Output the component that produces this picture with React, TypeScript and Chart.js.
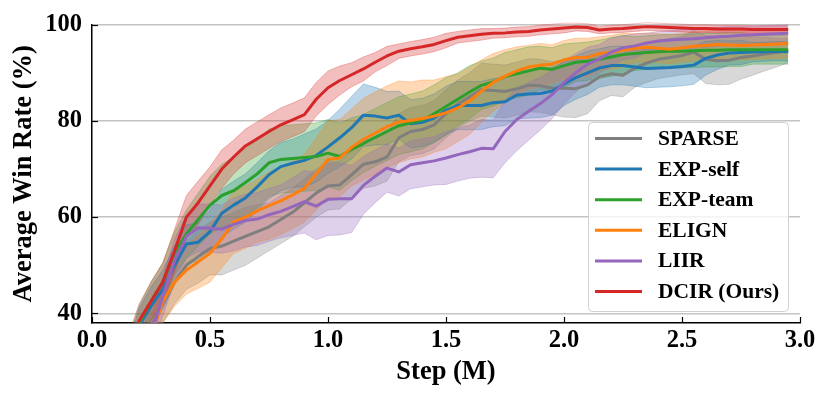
import React, { useEffect, useRef } from "react";
import { Chart, registerables } from "chart.js";

Chart.register(...registerables);

const steps = [
  0, 0.05, 0.1, 0.15, 0.2, 0.25, 0.3, 0.35, 0.4, 0.45, 0.5, 0.55, 0.6, 0.65, 0.7,
  0.75, 0.8, 0.85, 0.9, 0.95, 1.0, 1.05, 1.1, 1.15, 1.2, 1.25, 1.3, 1.35, 1.4, 1.45,
  1.5, 1.55, 1.6, 1.65, 1.7, 1.75, 1.8, 1.85, 1.9, 1.95, 2.0, 2.05, 2.1, 2.15, 2.2,
  2.25, 2.3, 2.35, 2.4, 2.45, 2.5, 2.55, 2.6, 2.65, 2.7, 2.75, 2.8, 2.85, 2.9, 2.95,
];

const seriesNames = ["SPARSE", "EXP-self", "EXP-team", "ELIGN", "LIIR", "DCIR (Ours)"];
const seriesColors = ["#7f7f7f", "#1f77b4", "#2ca02c", "#ff7f0e", "#9467bd", "#d62728"];

const sparseMean = [
  10, 16, 22, 27, 32, 37.5, 42, 46.5, 50, 51.8, 53.5, 54, 55, 56, 57,
  58, 59.5, 61, 63, 65, 66.5, 66.7, 68.8, 71, 71.5, 72.5, 76.5, 77.8, 78.2, 79.2,
  81.5, 83.5, 85, 86.5, 86.3, 86.1, 86.7, 87.4, 87.3, 86.8, 86.8, 86.7, 87.5, 89.2, 89.8,
  89.5, 91, 92, 92.8, 93.2, 93.6, 94.3, 92.8, 92.5, 92.6, 93.2, 93.5, 93.9, 94.2, 94.6,
];
const sparseStd = [
  3, 3, 3, 3, 3.5, 4, 4, 4.5, 5, 5.5, 5.5, 6, 6, 6, 5.5,
  5, 5, 5, 5, 5, 5, 5, 5, 5, 5, 5, 5, 5, 5, 5,
  5, 5, 5, 5.5, 5.5, 5.5, 5.5, 5.5, 5.5, 5.5, 6, 6, 6, 5, 4.5,
  4.5, 4, 4, 4, 4, 4, 4.5, 5, 5, 5, 4.5, 4, 3.5, 3, 2.5,
];

const expSelfMean = [
  12, 18, 24, 30, 37.5, 41.5, 45, 50, 54.4, 54.8, 57, 60.8, 62.5, 64, 66.3,
  68.8, 70.5, 71.2, 71.8, 72.8, 74.6, 76.5, 78.6, 81.2, 81.0, 80.6, 81.2, 79.4, 79.7, 80.6,
  82.2, 83.2, 83.2, 83.2, 83.8, 84.0, 85.4, 85.6, 85.7, 86.2, 87.7, 89.0, 90.0, 91.0, 91.5,
  91.5, 91.2, 90.9, 91.0, 91.1, 91.3, 91.6, 93.0, 93.7, 94.1, 94.2, 94.3, 94.4, 94.5, 94.4,
];
const expSelfStd = [
  3, 3, 3, 3, 3.5, 4, 4, 4, 4, 4, 4.5, 5, 5, 5, 5,
  5, 5, 5, 5.5, 5.5, 5.5, 6, 6.5, 6.5, 6, 5.5, 5, 5, 5, 5,
  5, 5, 5, 5, 5, 5, 5, 5, 5, 5, 4.5, 4.5, 4.5, 4, 4,
  4, 4, 4, 4, 4, 4, 4, 3.5, 3, 2.5, 2.5, 2, 2, 2, 2,
];

const expTeamMean = [
  14, 19, 25, 31, 38, 42.5, 46.5, 52.5, 56.5, 59.5, 62.5, 64.5, 65.5, 67.2, 69,
  71.3, 72, 72.2, 72.4, 72.6, 73.3, 72.6, 74.1, 75.3, 76.6, 77.8, 79.0, 79.6, 80.2, 81.5,
  83, 84.5, 86, 87.4, 88.1, 89.2, 89.8, 90.4, 91.0, 90.7, 91.5, 92.2, 92.4, 92.8, 93.3,
  93.8, 94.0, 94.2, 94.4, 94.5, 94.5, 94.6, 94.7, 94.7, 94.8, 94.8, 94.8, 94.8, 94.8, 94.8,
];
const expTeamStd = [
  3, 3, 3, 3, 3.5, 4, 4, 4.5, 5, 5.5, 6, 6.5, 7, 7, 7,
  7, 7, 7, 7, 7, 7, 7, 6.5, 6, 6, 6, 6, 6, 6, 6,
  6, 5.5, 5.5, 5, 5, 5, 5, 5, 4.5, 4.5, 4.5, 4, 4, 4, 4,
  4, 3.5, 3.5, 3.5, 3.5, 3.5, 3.5, 3.5, 3.5, 3.5, 3.5, 3, 3, 3, 3,
];

const elignMean = [
  5, 11, 17, 23, 29, 35, 42.5, 46.5, 49, 50.7, 52.5, 55.5, 59, 60, 61.3,
  62.4, 63.4, 64.6, 66, 69, 72, 72.3, 74.5, 76.2, 77.5, 78.8, 79.8, 80.1, 80.5, 81,
  81.7, 82.7, 84.2, 86.2, 88, 89.3, 90.4, 91.2, 91.6, 91.8, 92.7, 93.2, 93.2, 94, 94.3,
  94.7, 95.1, 95.3, 95.1, 94.9, 95.2, 95.5, 95.7, 95.9, 95.8, 95.7, 95.8, 95.9, 96, 96.1,
];
const elignStd = [
  3, 3, 3, 3, 3.5, 4, 4.5, 5, 5, 5.5, 6, 6, 6.5, 6.5, 6.5,
  7, 7, 7, 7, 7.5, 8, 8, 8, 8.5, 8.5, 8.5, 8.5, 8, 8, 7.5,
  7.5, 7, 7, 6.5, 6, 5.5, 5, 4.5, 4.5, 4, 4, 4, 4, 3.5, 3.5,
  3.5, 3, 3, 3, 3, 3, 3, 3, 3, 3, 3, 3, 3, 3, 3,
];

const liirMean = [
  8, 13, 19, 25, 30, 35.5, 43.5, 51, 56, 57.8, 57.7, 57.5, 58.5, 59.3, 59.6,
  60.5, 61.2, 62.2, 63.2, 62.3, 63.7, 63.8, 63.8, 66.6, 68.5, 70.2, 69.4, 70.9, 71.3, 71.7,
  72.3, 73, 73.6, 74.3, 74.2, 77.8, 80.3, 82, 83.6, 85.5, 88, 90, 91.8, 92.9, 94.3,
  95.2, 95.6, 96.2, 96.6, 96.8, 97, 97.1, 97.3, 97.5, 97.6, 97.8, 97.9, 98, 98.1, 98.2,
];
const liirStd = [
  3, 3, 3, 3, 3.5, 4, 4, 4.5, 4.5, 5, 5, 5, 5.5, 5.5, 5.5,
  5.5, 5.5, 6, 6.5, 7, 7.5, 7.5, 7, 6, 5.5, 5, 5, 5, 5, 5,
  5.5, 5.5, 5.5, 6, 6, 6.5, 6.5, 6, 5.5, 5, 4.5, 4, 3.5, 3, 3,
  2.5, 2.5, 2, 2, 2, 2, 2, 2, 2, 2, 1.8, 1.8, 1.8, 1.8, 1.8,
];

const dcirMean = [
  15, 20, 25, 32, 38.5, 42.5, 46.5, 53, 60, 63, 66.5, 70, 72.5, 74.8, 76.3,
  77.8, 79.2, 80.2, 81.3, 84.5, 86.9, 88.4, 89.6, 90.8, 92.2, 93.5, 94.5, 95.0, 95.4, 95.9,
  96.7, 97.4, 97.7, 98.0, 98.2, 98.3, 98.5, 98.6, 98.9, 99.1, 99.3, 99.5, 99.4, 98.9, 99.1,
  99.2, 99.4, 99.6, 99.5, 99.4, 99.3, 99.2, 99.2, 99.1, 99.1, 99.1, 99.0, 99.0, 99.0, 99.0,
];
const dcirStd = [
  3, 3, 3, 3, 3.5, 4, 4, 4.5, 4.5, 4.5, 4, 4, 3.5, 3.5, 3.5,
  3.5, 3.5, 3.5, 3.5, 3.5, 3.5, 3, 2.5, 2.5, 2, 2, 1.5, 1.5, 1.5, 1.5,
  1.5, 1.2, 1.2, 1.2, 1, 1, 1, 1, 1, 1, 1, 0.8, 0.8, 0.8, 0.8,
  0.8, 0.8, 0.8, 0.8, 0.8, 0.8, 0.8, 0.8, 0.8, 0.8, 0.8, 0.8, 0.8, 0.8, 0.8,
];

const xTicks = [0, 0.5, 1.0, 1.5, 2.0, 2.5, 3.0];
const yTicks = [40, 60, 80, 100];

const allMeans = [sparseMean, expSelfMean, expTeamMean, elignMean, liirMean, dcirMean];
const allStds = [sparseStd, expSelfStd, expTeamStd, elignStd, liirStd, dcirStd];

const FONT_FAMILY = '"Liberation Serif", "Times New Roman", Times, serif';

function rgba(hex: string, a: number) {
  const n = parseInt(hex.slice(1), 16);
  return `rgba(${(n >> 16) & 255}, ${(n >> 8) & 255}, ${n & 255}, ${a})`;
}

const inwardTicks = {
  id: "inwardTicks",
  afterDraw(chart: any) {
    const { ctx, chartArea, scales } = chart;
    ctx.save();
    ctx.strokeStyle = "#000";
    ctx.lineWidth = 1.2;
    xTicks.forEach((v) => {
      const px = Math.round(scales.x.getPixelForValue(v)) + 0.5;
      ctx.beginPath();
      ctx.moveTo(px, chartArea.bottom);
      ctx.lineTo(px, chartArea.bottom - 6);
      ctx.stroke();
    });
    yTicks.forEach((v) => {
      const py = Math.round(scales.y.getPixelForValue(v)) + 0.5;
      ctx.beginPath();
      ctx.moveTo(chartArea.left, py);
      ctx.lineTo(chartArea.left + 6, py);
      ctx.stroke();
    });
    ctx.restore();
  },
};

const boxLegend = {
  id: "boxLegend",
  afterDraw(chart: any) {
    const { ctx } = chart;
    ctx.save();
    const bx = 588.5, by = 122.5, bw = 200, bh = 189;
    ctx.beginPath();
    ctx.roundRect(bx, by, bw, bh, 4);
    ctx.fillStyle = "rgba(255,255,255,0.8)";
    ctx.fill();
    ctx.strokeStyle = "#d0d0d0";
    ctx.lineWidth = 1;
    ctx.stroke();
    ctx.font = `bold 21.5px ${FONT_FAMILY}`;
    ctx.textBaseline = "middle";
    ctx.textAlign = "left";
    seriesNames.forEach((name, i) => {
      const y = 138.5 + i * 30.6;
      ctx.strokeStyle = seriesColors[i];
      ctx.lineWidth = 3;
      ctx.beginPath();
      ctx.moveTo(595, y);
      ctx.lineTo(642, y);
      ctx.stroke();
      ctx.fillStyle = "#000";
      ctx.fillText(name, 658, y + 1);
    });
    ctx.restore();
  },
};

export default function App() {
  const canvasRef = useRef<HTMLCanvasElement | null>(null);

  useEffect(() => {
    const canvas = canvasRef.current;
    if (!canvas) return;
    const datasets: any[] = [];
    allMeans.forEach((mean, s) => {
      const std = allStds[s];
      const color = seriesColors[s];
      const lowerIndex = datasets.length;
      datasets.push({
        label: seriesNames[s] + " lower",
        data: steps.map((x, i) => ({ x, y: mean[i] - std[i] })),
        borderColor: rgba(color, 0.3),
        borderWidth: 1,
        pointRadius: 0,
        fill: false,
        order: 30 - s,
        clip: { left: 0, top: 5, right: 5, bottom: 0 },
      });
      datasets.push({
        label: seriesNames[s] + " upper",
        data: steps.map((x, i) => ({ x, y: mean[i] + std[i] })),
        borderColor: rgba(color, 0.3),
        backgroundColor: rgba(color, 0.3),
        borderWidth: 1,
        pointRadius: 0,
        fill: { target: lowerIndex },
        order: 30 - s,
        clip: { left: 0, top: 5, right: 5, bottom: 0 },
      });
      datasets.push({
        label: seriesNames[s],
        data: steps.map((x, i) => ({ x, y: mean[i] })),
        borderColor: color,
        borderWidth: 3,
        borderJoinStyle: "round",
        pointRadius: 0,
        fill: false,
        order: 5 - s,
        clip: { left: 0, top: 5, right: 5, bottom: 0 },
      });
    });

    const tickFont = { family: FONT_FAMILY, size: 24.5, weight: "bold" as const };
    const titleFont = { family: FONT_FAMILY, size: 26.5, weight: "bold" as const };

    const chart = new Chart(canvas, {
      type: "line",
      data: { datasets },
      options: {
        animation: false,
        responsive: false,
        maintainAspectRatio: false,
        layout: { padding: { top: 22, right: 30, left: 0, bottom: 0 } },
        elements: { point: { radius: 0 }, line: { tension: 0 } },
        plugins: {
          legend: { display: false },
          tooltip: { enabled: false },
          filler: { drawTime: "beforeDatasetsDraw", propagate: false },
        } as any,
        scales: {
          x: {
            type: "linear",
            min: 0,
            max: 3,
            afterBuildTicks: (scale: any) => {
              scale.ticks = xTicks.map((v) => ({ value: v }));
            },
            afterFit: (scale: any) => {
              scale.height = 75;
            },
            grid: { display: false, drawTicks: false },
            border: { display: true, color: "#000", width: 1.5 },
            ticks: {
              font: tickFont,
              color: "#000",
              padding: 3,
              maxRotation: 0,
              autoSkip: false,
              callback: (v: any) => Number(v).toFixed(1),
            },
            title: {
              display: true,
              text: "Step (M)",
              font: titleFont,
              color: "#000",
              padding: { top: 0, bottom: 10 },
            },
          },
          y: {
            type: "linear",
            min: 38,
            max: 100,
            afterBuildTicks: (scale: any) => {
              scale.ticks = yTicks.map((v) => ({ value: v }));
            },
            afterFit: (scale: any) => {
              scale.width = 92;
            },
            grid: { color: "#c4c4c4", lineWidth: 1.5, drawTicks: false },
            border: { display: true, color: "#000", width: 1.5 },
            ticks: {
              font: tickFont,
              color: "#000",
              padding: 10,
              autoSkip: false,
              callback: (v: any) => String(v),
            },
            title: {
              display: true,
              text: "Average Win Rate (%)",
              font: titleFont,
              color: "#000",
              padding: { top: 8, bottom: 0 },
            },
          },
        },
      },
      plugins: [inwardTicks, boxLegend],
    });
    return () => chart.destroy();
  }, []);

  return (
    <div style={{ position: "fixed", left: 0, top: 0, width: 830, height: 398, background: "#fff" }}>
      <canvas ref={canvasRef} width={830} height={398} style={{ width: 830, height: 398 }} />
    </div>
  );
}
